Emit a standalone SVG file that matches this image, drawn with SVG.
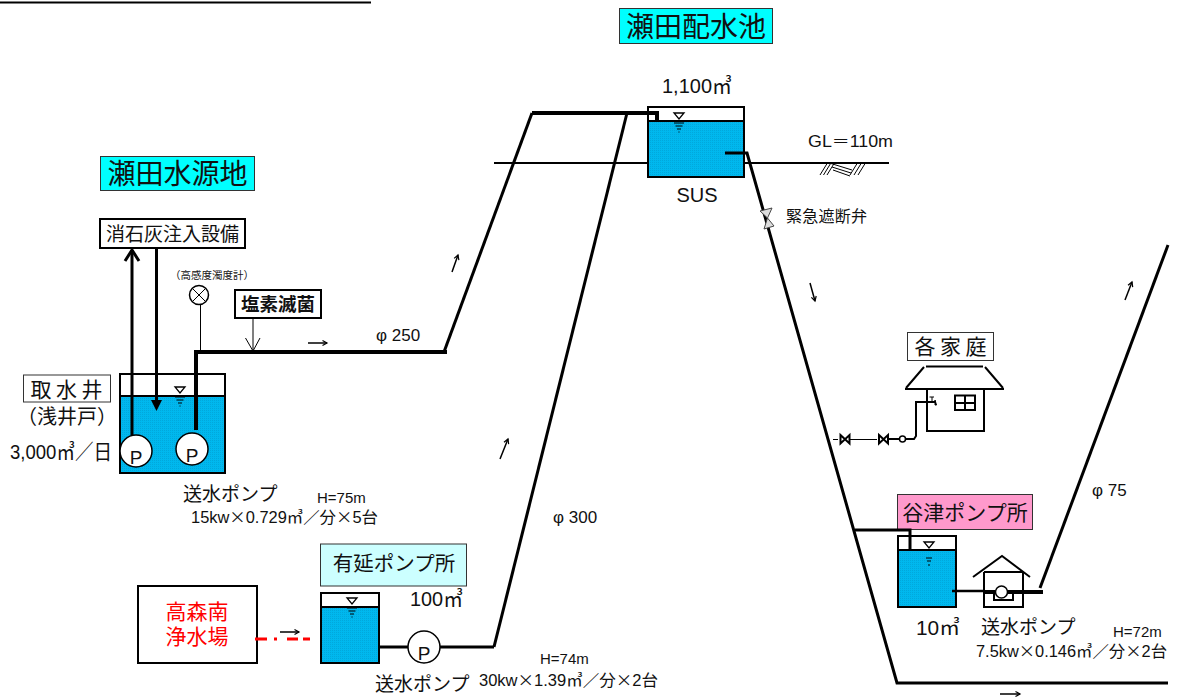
<svg xmlns="http://www.w3.org/2000/svg" width="1177" height="697" viewBox="0 0 1177 697">
<style>
text{font-family:"Liberation Sans","Noto Sans CJK JP",sans-serif;fill:#111}
tspan.c{font-family:"Noto Sans CJK JP",sans-serif}
.r{fill:#f00}
.b{fill:none;stroke:#000;stroke-width:2}
.box{fill:#fff;stroke:#000;stroke-width:2}
.thin{fill:#fff;stroke:#333;stroke-width:1}
.tit{stroke:#333;stroke-width:1;fill:#0ff}
.p2{fill:none;stroke:#000;stroke-width:2.500}
.p3{fill:none;stroke:#000;stroke-width:3}
.p4{fill:none;stroke:#000;stroke-width:4}
.l1{fill:none;stroke:#000;stroke-width:1}
.ar{fill:none;stroke:#000;stroke-width:1.500}
.lvl{fill:#fff;stroke:#000;stroke-width:1.300}
.water{fill:url(#dots);stroke:#000;stroke-width:2}
.pump{fill:#fff;stroke:#000;stroke-width:1.500}
</style>
<defs>
<pattern id="dots" width="2" height="2" patternUnits="userSpaceOnUse"><rect width="2" height="2" fill="#00b8ee"/><rect width="1" height="1" fill="#00a8dc"/></pattern>
<g id="wl"><path class="lvl" d="M-5,0H5L0,6Z"/><path class="l1" d="M-5,10H5M-3.500,13H3.500M-2,16H2M-.5,19H.5"/></g>
<marker id="small" markerWidth="8" markerHeight="8" refX="6" refY="4" orient="auto" markerUnits="userSpaceOnUse"><path d="M1.500,1.500L6,4L1.500,6.500" fill="none" stroke="#000" stroke-width="1.200"/></marker>
</defs>

<path d="M0,2.500H371" class="b"/>

<g id="seta-source-title"><rect class="tit" x="100.500" y="156.500" width="154" height="34"/><text x="177.500" y="184" font-size="28" text-anchor="middle">瀬田水源地</text></g>
<g id="seta-reservoir-title"><rect class="tit" x="619.500" y="8.500" width="153" height="35"/><text x="696" y="37" font-size="28" text-anchor="middle">瀬田配水池</text></g>

<g id="lime"><rect class="box" x="100" y="219" width="145" height="29"/><text x="172.500" y="241" font-size="19" text-anchor="middle">消石灰注入設備</text></g>
<g id="chlorine"><rect class="box" x="235" y="290" width="86" height="28"/><text x="278" y="311" font-size="18.500" font-weight="bold" text-anchor="middle">塩素滅菌</text></g>

<g id="turbidity"><text x="212" y="279" font-size="10.500" text-anchor="middle">（高感度濁度計）</text><circle cx="199" cy="295" r="9.500" class="pump"/><path class="l1" d="M192.500,288.500L205.500,301.500M205.500,288.500L192.500,301.500"/></g>

<g id="intake-well">
<rect class="box" x="120" y="374" width="105" height="99"/>
<rect class="water" x="120" y="396" width="105" height="77"/>
<use href="#wl" x="180" y="387"/>
<circle class="pump" cx="136" cy="451" r="16"/><text x="136" y="464" font-size="19" text-anchor="middle">P</text>
<circle class="pump" cx="192" cy="449" r="16"/><text x="192" y="462" font-size="19" text-anchor="middle">P</text>
<rect class="thin" x="23.500" y="375" width="87" height="27"/>
<text x="66.500" y="397" font-size="21" text-anchor="middle" textLength="72">取水井</text>
<text x="67" y="424" font-size="20" text-anchor="middle">（浅井戸）</text>
<text x="10" y="459" font-size="21" textLength="102" lengthAdjust="spacingAndGlyphs">3,000㎥／日</text>
<text x="183" y="501" font-size="19">送水ポンプ</text>
<text x="317" y="503" font-size="15">H=75m</text>
<text x="191" y="523" font-size="16" textLength="187" lengthAdjust="spacingAndGlyphs">15kw<tspan class="c">×</tspan>0.729㎥／分<tspan class="c">×</tspan>5台</text>
</g>
<text x="376" y="341" font-size="17">φ 250</text>

<g id="reservoir">
<rect class="box" x="648" y="107" width="96" height="70"/>
<rect class="water" x="648" y="121" width="96" height="56"/>
<use href="#wl" x="679" y="113"/>
<text x="662" y="93" font-size="21" textLength="70" lengthAdjust="spacingAndGlyphs">1,100㎥</text>
<text x="697" y="202" font-size="20" text-anchor="middle">SUS</text>
<text x="808" y="147" font-size="16" textLength="85" lengthAdjust="spacingAndGlyphs">GL＝110m</text>
<text x="786" y="222" font-size="16" textLength="81">緊急遮断弁</text>
<path class="l1" d="M820,175L828,162M823.500,175L831.500,162M827,175L835,162M832,167L851,173M833,170L850,176M831,163.500L852,170M850,175L858,162M854,175L862,162M858,175L866,162"/>
</g>

<g id="house">
<rect class="thin" x="907.500" y="332.500" width="86" height="28"/>
<text x="950.500" y="354" font-size="21" text-anchor="middle" textLength="72">各家庭</text>
<path class="b" d="M926,366.500H983M924,367L906,388M985,367L1003,388M905,389H1004"/>
<path class="b" d="M927,389V431H984V389"/>
<path class="b" d="M955,395.500H975V410H955ZM955,403H975M965,396V410"/>
<path class="l1" d="M929.500,397H934M932,397V402"/>
<path d="M935,400L936.500,405H935Z" stroke="#000" stroke-width="1"/>
<path d="M840.500,435L849.500,443.500V435L840.500,443.500Z" fill="#fff" stroke="#000" stroke-width="2"/>
<path d="M879,435L888,443.500V435L879,443.500Z" fill="#fff" stroke="#000" stroke-width="2"/>
</g>

<g id="taniguchi">
<rect class="tit" x="897.500" y="494.500" width="135" height="35" style="fill:#ff99cc"/>
<text x="965" y="520" font-size="21" text-anchor="middle">谷津ポンプ所</text>
<rect class="box" x="898" y="536" width="58" height="71"/>
<rect class="water" x="898" y="550" width="58" height="57"/>
<path class="b" d="M898,550H957M898,536H957"/>
<path class="lvl" d="M924,542H934L929,548Z"/>
<path class="l1" d="M926,558H932M927,561H931M929,564V566"/>
<text x="916" y="635" font-size="20" textLength="44" lengthAdjust="spacingAndGlyphs">10㎥</text>
<text x="981" y="634" font-size="19">送水ポンプ</text>
<text x="1113" y="637" font-size="15">H=72m</text>
<text x="976" y="657" font-size="16" textLength="191" lengthAdjust="spacingAndGlyphs">7.5kw<tspan class="c">×</tspan>0.146㎥／分<tspan class="c">×</tspan>2台</text>
<text x="1092" y="496" font-size="17">φ 75</text>
</g>
<g id="pump-house">
<path class="b" d="M973,577L1002,556L1030,577"/>
<path class="b" d="M984,572V607H1023V572M984,572H1023"/>
<path class="b" d="M994,590V600H1013V590"/>
</g>

<g id="arinobe">
<rect class="thin" x="320.500" y="544" width="146" height="42" style="fill:#ccffff"/>
<text x="394" y="571" font-size="20.500" text-anchor="middle">有延ポンプ所</text>
<rect class="box" x="321" y="593" width="58" height="70"/>
<rect class="water" x="321" y="607" width="58" height="56"/>
<use href="#wl" x="352" y="598"/>
<text x="410" y="606" font-size="21" textLength="53" lengthAdjust="spacingAndGlyphs">100㎥</text>
<text x="375" y="691" font-size="19">送水ポンプ</text>
<text x="540" y="664" font-size="15">H=74m</text>
<text x="479" y="686" font-size="16" textLength="179" lengthAdjust="spacingAndGlyphs">30kw<tspan class="c">×</tspan>1.39㎥／分<tspan class="c">×</tspan>2台</text>
<text x="553" y="523" font-size="17">φ 300</text>
</g>

<g id="takamori">
<rect class="box" x="138" y="586" width="119" height="77"/>
<text x="197" y="619" font-size="21" text-anchor="middle" class="r">高森南</text>
<text x="197" y="644" font-size="21" text-anchor="middle" class="r">浄水場</text>
</g>

<g id="connectors">
<path class="b" d="M494,163H648M744,163H889"/>
<path class="p3" d="M444,352L532,113"/>
<path class="p3" d="M494,647L627,113"/>
<path class="p4" d="M532,113H657V121"/>
<path class="p3" d="M725,153H747L897,683H1168"/>
<path class="p3" d="M1040,588L1168,245"/>
<path class="p4" d="M196,430V352H447"/>
<path class="p3" d="M132,435V250"/>
<path class="p3" d="M125,261L132,250L139,261"/>
<path class="p3" d="M156.500,248V402"/>
<path d="M151,400H162L156.500,411Z" fill="#000"/>
<path class="l1" d="M200.500,305V352"/>
<path class="l1" d="M253,318V350M245.500,338L253,351L260,338"/>
<path d="M255,639H310" stroke="#f00" stroke-width="3" stroke-dasharray="12 7 3 10 11 5 7" fill="none"/>
<path class="p3" d="M379,647H408M440,647H494"/>
<path class="p3" d="M855,530H910V549"/>
<path class="p2" d="M952,591H984"/>
<path class="p4" d="M984,592H1043"/>
<circle class="pump" cx="1001.500" cy="592" r="6"/>
<path class="l1" d="M833,439.500H838M850,439.500H877" stroke-width="1.500"/>
<path class="b" d="M888,439H899M905.500,439H914L916,436V402H935"/>
<circle cx="902.500" cy="439" r="3" fill="#fff" stroke="#000" stroke-width="1.500"/>
<circle class="pump" cx="424" cy="647" r="16"/><text x="424" y="660" font-size="19" text-anchor="middle">P</text>
</g>

<g id="valve"><path d="M760,211L772,208L767.500,218L774,226L764,229L767.500,218Z" fill="#ddd" stroke="#444"/></g>

<g id="arrows">
<path class="ar" marker-end="url(#small)" d="M308,343H327"/>
<path class="ar" marker-end="url(#small)" d="M452,272L458,255"/>
<path class="ar" marker-end="url(#small)" d="M500,459L508,439"/>
<path class="ar" marker-end="url(#small)" d="M810,283L815,301"/>
<path class="ar" marker-end="url(#small)" d="M1125,300L1132,282"/>
<path class="ar" marker-end="url(#small)" d="M280,632H299"/>
<path class="ar" marker-end="url(#small)" d="M1000,694H1020"/>
</g>
</svg>
